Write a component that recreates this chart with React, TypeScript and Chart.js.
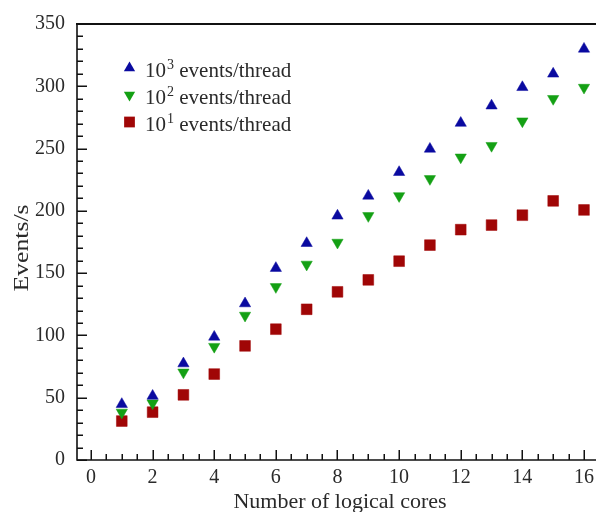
import React, { useEffect, useRef } from "react";
import { Chart, registerables } from "chart.js";

Chart.register(...registerables);

const cores = [1, 2, 3, 4, 5, 6, 7, 8, 9, 10, 11, 12, 13, 14, 15, 16];
const events1000 = [44.8, 51.4, 77.4, 98.8, 125.6, 154, 174, 196, 212, 231, 249.7, 270.5, 284.4, 299.2, 310, 330];
const events100 = [38.2, 45.6, 70.4, 91, 116, 139, 157, 174.6, 196, 212, 225.7, 243, 252.3, 272, 290, 299];
const events10 = [31.3, 38.4, 52.3, 69, 91.6, 105, 121, 135, 144.6, 159.6, 172.5, 184.9, 188.6, 196.5, 208, 200.7];

const seriesLabels = ["10³ events/thread", "10² events/thread", "10¹ events/thread"];
const legendBase = "10";
const legendExps = ["3", "2", "1"];
const legendRest = " events/thread";

const xTicks = [0, 2, 4, 6, 8, 10, 12, 14, 16];
const yTicks = [0, 50, 100, 150, 200, 250, 300, 350];
const xTitle = "Number of logical cores";
const yTitle = "Events/s";

const FONT = "'Liberation Serif', 'Times New Roman', serif";
const BLUE = "#0a0aa0";
const GREEN = "#14a014";
const RED = "#a00606";
const TEXT = "#2a2a2a";

function drawMarker(ctx: CanvasRenderingContext2D, style: string, x: number, y: number, r: number, color: string) {
  ctx.save();
  ctx.fillStyle = color;
  ctx.beginPath();
  if (style === "triangle" || style === "triangleDown") {
    const sgn = style === "triangle" ? 1 : -1;
    for (let i = 0; i < 3; i++) {
      const a = (i * 2 * Math.PI) / 3;
      const px = x + Math.sin(a) * r;
      const py = y - sgn * Math.cos(a) * r;
      if (i === 0) ctx.moveTo(px, py);
      else ctx.lineTo(px, py);
    }
    ctx.closePath();
  } else {
    const s = Math.SQRT1_2 * r;
    ctx.rect(x - s, y - s, 2 * s, 2 * s);
  }
  ctx.fill();
  ctx.restore();
}

const decor = {
  id: "decor",
  afterDraw(chart: any) {
    const { ctx, chartArea } = chart;
    const x = chart.scales.x;
    const y = chart.scales.y;
    const { left, right, top, bottom } = chartArea;
    ctx.save();
    ctx.strokeStyle = "#111";
    ctx.lineWidth = 1.6;
    ctx.beginPath();
    ctx.moveTo(left, top);
    ctx.lineTo(left, bottom);
    ctx.lineTo(right + 5, bottom);
    ctx.stroke();
    ctx.lineWidth = 2;
    ctx.beginPath();
    ctx.moveTo(left - 1, top);
    ctx.lineTo(right + 5, top);
    ctx.stroke();
    ctx.lineWidth = 1.5;
    ctx.beginPath();
    for (let v = 0; v <= 350; v += 10) {
      const py = Math.round(y.getPixelForValue(v)) + 0.25;
      const len = v % 50 === 0 ? 10 : 6;
      ctx.moveTo(left, py);
      ctx.lineTo(left + len, py);
    }
    for (let v = 0; v <= 16.5; v += 0.5) {
      const px = Math.round(x.getPixelForValue(v)) + 0.25;
      const len = v % 2 === 0 ? 10 : 6;
      ctx.moveTo(px, bottom);
      ctx.lineTo(px, bottom - len);
    }
    ctx.stroke();

    ctx.fillStyle = TEXT;
    ctx.font = `22px ${FONT}`;
    ctx.textAlign = "center";
    ctx.textBaseline = "alphabetic";
    ctx.fillText(xTitle, 340, 508);
    ctx.save();
    ctx.translate(28, 248);
    ctx.rotate(-Math.PI / 2);
    ctx.scale(1.17, 1);
    ctx.fillText(yTitle, 0, 0);
    ctx.restore();

    const styles = ["triangle", "triangleDown", "rect"];
    const colors = [BLUE, GREEN, RED];
    const radii = [6.5, 6.5, 7.6];
    const rowsY = [68, 95, 122];
    const baselines = [77, 103.5, 130.5];
    chart.data.datasets.forEach((_: any, i: number) => {
      drawMarker(ctx, styles[i], 129.5, rowsY[i], radii[i], colors[i]);
      ctx.fillStyle = TEXT;
      ctx.textAlign = "left";
      ctx.textBaseline = "alphabetic";
      ctx.font = `21px ${FONT}`;
      let tx = 145;
      ctx.fillText(legendBase, tx, baselines[i]);
      tx += ctx.measureText(legendBase).width + 1;
      ctx.font = `14px ${FONT}`;
      ctx.fillText(legendExps[i], tx, baselines[i] - 8);
      tx += ctx.measureText(legendExps[i]).width;
      ctx.font = `21px ${FONT}`;
      ctx.fillText(legendRest, tx, baselines[i]);
    });
    ctx.restore();
  },
};

export default function App() {
  const ref = useRef<HTMLCanvasElement | null>(null);

  useEffect(() => {
    if (!ref.current) return;
    const mk = (vals: number[]) => cores.map((c, i) => ({ x: c, y: vals[i] }));
    const chart = new Chart(ref.current, {
      type: "scatter",
      data: {
        datasets: [
          { label: seriesLabels[0], data: mk(events1000), pointStyle: "triangle", pointRadius: 6.5, backgroundColor: BLUE, borderColor: BLUE, borderWidth: 0.5 },
          { label: seriesLabels[1], data: mk(events100), pointStyle: "triangle", rotation: 180, pointRadius: 6.5, backgroundColor: GREEN, borderColor: GREEN, borderWidth: 0.5 },
          { label: seriesLabels[2], data: mk(events10), pointStyle: "rect", pointRadius: 7.6, backgroundColor: RED, borderColor: RED, borderWidth: 0.5 },
        ] as any,
      },
      options: {
        animation: false,
        responsive: false,
        layout: { padding: { top: 17, left: 0, right: 0, bottom: 0 }, autoPadding: false } as any,
        plugins: { legend: { display: false }, tooltip: { enabled: false } },
        scales: {
          x: {
            type: "linear",
            min: -0.4538,
            max: 16.5,
            afterFit: (s: any) => { s.height = 52; },
            afterBuildTicks: (s: any) => { s.ticks = xTicks.map((v) => ({ value: v })); },
            grid: { display: false, drawTicks: false, tickLength: 0 },
            border: { display: false },
            ticks: { padding: 6, color: TEXT, font: { family: FONT, size: 20 }, maxRotation: 0, autoSkip: false },
          },
          y: {
            type: "linear",
            min: 0,
            max: 350,
            afterFit: (s: any) => { s.width = 77; },
            afterBuildTicks: (s: any) => { s.ticks = yTicks.map((v) => ({ value: v })); },
            grid: { display: false, drawTicks: false, tickLength: 0 },
            border: { display: false },
            ticks: { padding: 12, color: TEXT, font: { family: FONT, size: 20 }, autoSkip: false },
          },
        },
      },
      plugins: [decor],
    });
    return () => chart.destroy();
  }, []);

  return (
    <div style={{ position: "fixed", left: 0, top: 0, width: 596, height: 512, overflow: "hidden", background: "#fff" }}>
      <canvas ref={ref} width={600} height={512} style={{ display: "block" }} />
    </div>
  );
}
